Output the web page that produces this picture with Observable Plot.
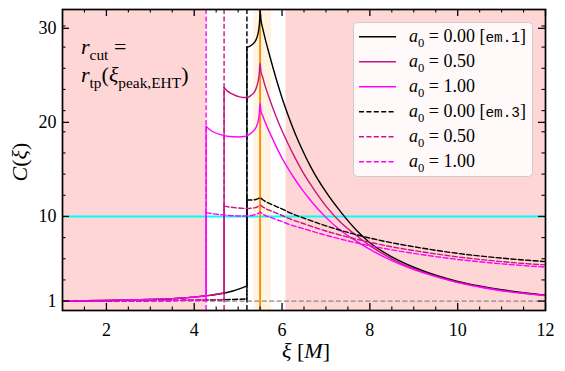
<!DOCTYPE html>
<html><head><meta charset="utf-8">
<script src="https://cdn.jsdelivr.net/npm/d3@7"></script>
<script src="https://cdn.jsdelivr.net/npm/@observablehq/plot@0.6"></script>
<style>
html,body{margin:0;padding:0;background:#fff;}
#chart{position:relative;width:565px;height:371px;}
#chart svg, #chart svg text, #chart svg tspan{font-family:"Liberation Serif","Times New Roman","DejaVu Serif",serif;}
#chart svg tspan.mono{font-family:"Liberation Mono","DejaVu Sans Mono",monospace;}
</style></head><body><div id="chart"></div>
<script>
// ---------- axes / ticks ----------
const xDomain = [1, 12];
const yDomain = [0, 32];
const xMajorTicks = [2, 4, 6, 8, 10, 12];
const xMinorTicks = [1.5, 2.5, 3, 3.5, 4.5, 5, 5.5, 6.5, 7, 7.5, 8.5, 9, 9.5, 10.5, 11, 11.5];
const yMajorTicks = [1, 10, 20, 30];
const yMinorTicks = [3.25, 5.5, 7.75, 12.25, 14.5, 16.75, 19, 21.25, 23.5, 25.75, 28, 30.25];

// ---------- shaded regions / reference lines ----------
const shadeStart = [1, 6.09];
const shadeEnd = [4.27, 12];
const peakBand = [5.36, 5.76];
const peakXi = [5.5];
const thresholdC = [10];
const unityC = [1];
const cutXi = [5.2, 4.68, 4.27];

// ---------- em.1 (solid) ----------
const xiBlackSolidLow = [1, 1.5, 2, 2.5, 3, 3.5, 4, 4.3, 4.6, 4.9, 5.2];
const cBlackSolidLow  = [1.02, 1.04, 1.07, 1.11, 1.17, 1.26, 1.42, 1.58, 1.78, 2.1, 2.62];
const xiBlackSolidHigh = [5.2, 5.25, 5.3, 5.35, 5.4, 5.44, 5.47, 5.49, 5.5, 5.52, 5.56, 5.6, 5.7, 5.8, 5.9, 6.0, 6.15, 6.3, 6.45, 6.65, 7.0, 7.35, 7.7, 8.0, 8.5, 9.0, 9.5, 10, 10.5, 11, 11.5, 12];
const cBlackSolidHigh  = [28.0, 28.05, 28.2, 28.4, 28.7, 29.2, 29.9, 30.8, 31.9, 30.9, 30.0, 29.2, 27.4, 25.7, 24.1, 22.6, 20.6, 18.8, 17.2, 15.3, 12.6, 10.4, 8.5, 7.2, 5.7, 4.6, 3.75, 3.1, 2.6, 2.2, 1.88, 1.62];

const xiVioletSolidLow = [1, 1.5, 2, 2.5, 3, 3.5, 4, 4.3, 4.68];
const cVioletSolidLow  = [1.02, 1.04, 1.07, 1.11, 1.17, 1.26, 1.42, 1.58, 1.86];
const xiVioletSolidHigh = [4.68, 4.75, 4.85, 5.0, 5.1, 5.2, 5.3, 5.38, 5.43, 5.46, 5.48, 5.5, 5.52, 5.56, 5.6, 5.7, 5.8, 5.9, 6.0, 6.15, 6.3, 6.45, 6.65, 7.0, 7.35, 7.7, 8.0, 8.5, 9.0, 9.5, 10, 10.5, 11, 11.5, 12];
const cVioletSolidHigh  = [23.7, 23.35, 23.05, 22.75, 22.65, 22.65, 22.9, 23.3, 23.9, 24.5, 25.2, 26.3, 25.4, 24.8, 24.1, 22.7, 21.4, 20.2, 19.1, 17.6, 16.2, 14.9, 13.4, 11.1, 9.3, 7.95, 6.9, 5.5, 4.45, 3.65, 3.0, 2.52, 2.13, 1.84, 1.6];

const xiMagentaSolidLow = [1, 1.5, 2, 2.5, 3, 3.5, 4, 4.27];
const cMagentaSolidLow  = [1.02, 1.04, 1.07, 1.11, 1.17, 1.26, 1.42, 1.57];
const xiMagentaSolidHigh = [4.27, 4.35, 4.45, 4.6, 4.8, 5.0, 5.15, 5.25, 5.35, 5.42, 5.46, 5.48, 5.5, 5.52, 5.56, 5.6, 5.7, 5.8, 5.9, 6.0, 6.15, 6.3, 6.45, 6.65, 7.0, 7.35, 7.7, 8.0, 8.5, 9.0, 9.5, 10, 10.5, 11, 11.5, 12];
const cMagentaSolidHigh  = [19.6, 19.25, 18.95, 18.7, 18.5, 18.45, 18.5, 18.7, 19.1, 19.6, 20.2, 20.8, 22.0, 21.2, 20.7, 20.2, 19.1, 18.1, 17.1, 16.2, 15.0, 13.9, 12.9, 11.7, 9.9, 8.45, 7.35, 6.5, 5.3, 4.35, 3.6, 2.97, 2.5, 2.1, 1.82, 1.58];

// ---------- em.3 (dashed) ----------
const xiBlackDashLow = [1, 2, 3, 4, 4.6, 5.0, 5.2];
const cBlackDashLow  = [1.0, 1.02, 1.05, 1.1, 1.15, 1.19, 1.23];
const xiBlackDashHigh = [5.2, 5.3, 5.4, 5.46, 5.5, 5.54, 5.6, 5.8, 6.0, 6.2, 6.45, 7.0, 7.5, 8.0, 8.5, 9.0, 9.5, 10, 10.5, 11, 11.5, 12];
const cBlackDashHigh  = [11.75, 11.75, 11.8, 11.9, 12.0, 11.85, 11.65, 11.2, 10.8, 10.35, 9.9, 9.0, 8.3, 7.7, 7.2, 6.78, 6.4, 6.07, 5.8, 5.57, 5.37, 5.2];

const xiVioletDashLow = [1, 2, 3, 4, 4.4, 4.68];
const cVioletDashLow  = [1.0, 1.02, 1.05, 1.1, 1.13, 1.16];
const xiVioletDashHigh = [4.68, 4.8, 5.0, 5.2, 5.35, 5.45, 5.5, 5.55, 5.6, 5.8, 6.0, 6.2, 6.45, 7.0, 7.5, 8.0, 8.5, 9.0, 9.5, 10, 10.5, 11, 11.5, 12];
const cVioletDashHigh  = [11.1, 11.0, 10.9, 10.85, 10.9, 11.05, 11.2, 11.05, 10.9, 10.5, 10.1, 9.7, 9.3, 8.45, 7.8, 7.25, 6.77, 6.37, 6.02, 5.7, 5.43, 5.2, 5.0, 4.85];

const xiMagentaDashLow = [1, 2, 3, 4, 4.27];
const cMagentaDashLow  = [1.0, 1.02, 1.05, 1.09, 1.11];
const xiMagentaDashHigh = [4.27, 4.4, 4.6, 4.8, 5.0, 5.2, 5.35, 5.45, 5.5, 5.55, 5.6, 5.8, 6.0, 6.2, 6.45, 7.0, 7.5, 8.0, 8.5, 9.0, 9.5, 10, 10.5, 11, 11.5, 12];
const cMagentaDashHigh  = [10.4, 10.3, 10.2, 10.1, 10.05, 10.05, 10.15, 10.3, 10.45, 10.3, 10.15, 9.8, 9.45, 9.1, 8.75, 8.0, 7.4, 6.88, 6.45, 6.07, 5.73, 5.43, 5.18, 4.96, 4.78, 4.62];

// ---------- legend ----------
const legendA0 = ["0.00", "0.50", "1.00", "0.00", "0.50", "1.00"];
const legendTag = ["em.1", "", "", "em.3", "", ""];

// ---------- styling ----------
const BLACK = "#000000", VIOLET = "#c71585", MAGENTA = "#ff00ff";
const DASH = "5,2.4";
const LW = 1.4;
const SERIF = "'Liberation Serif','Times New Roman','DejaVu Serif',serif";
const W = 565, H = 371, mL = 62, mR = 20, mT = 9, mB = 61;
const innerW = W - mL - mR, innerH = H - mT - mB;

const series = [
  {low: [xiBlackSolidLow, cBlackSolidLow], high: [xiBlackSolidHigh, cBlackSolidHigh], color: BLACK, dash: null},
  {low: [xiVioletSolidLow, cVioletSolidLow], high: [xiVioletSolidHigh, cVioletSolidHigh], color: VIOLET, dash: null},
  {low: [xiMagentaSolidLow, cMagentaSolidLow], high: [xiMagentaSolidHigh, cMagentaSolidHigh], color: MAGENTA, dash: null},
  {low: [xiBlackDashLow, cBlackDashLow], high: [xiBlackDashHigh, cBlackDashHigh], color: BLACK, dash: DASH},
  {low: [xiVioletDashLow, cVioletDashLow], high: [xiVioletDashHigh, cVioletDashHigh], color: VIOLET, dash: DASH},
  {low: [xiMagentaDashLow, cMagentaDashLow], high: [xiMagentaDashHigh, cMagentaDashHigh], color: MAGENTA, dash: DASH}
];
const cutColors = [BLACK, VIOLET, MAGENTA];

const pts = (xs, cs) => xs.map((x, i) => ({x, c: cs[i]}));

const curveMarks = [];
for (const s of series) {
  const o = {x: "x", y: "c", stroke: s.color, strokeWidth: LW, strokeDasharray: s.dash};
  const [lx, lc] = s.low, [hx, hc] = s.high;
  curveMarks.push(Plot.line(pts(lx, lc), {...o, curve: "monotone-x"}));
  curveMarks.push(Plot.line(pts([lx[lx.length - 1], hx[0]], [lc[lc.length - 1], hc[0]]), o));
  curveMarks.push(Plot.line(pts(hx, hc), {...o, curve: "monotone-x"}));
}

const shade = shadeStart.map((s, i) => ({x1: s, x2: shadeEnd[i]}));

const svg = Plot.plot({
  width: W, height: H,
  marginLeft: mL, marginRight: mR, marginTop: mT, marginBottom: mB,
  x: {domain: xDomain},
  y: {domain: yDomain},
  style: "font-family:" + SERIF + ";font-size:17px;background:white;color:black;",
  marks: [
    Plot.rect(shade, {x1: "x1", x2: "x2", fill: "#ffd6d6"}),
    Plot.rect([{x1: peakBand[0], x2: peakBand[1]}], {x1: "x1", x2: "x2", fill: "#fff3e2"}),
    Plot.ruleY(unityC, {stroke: "#888888", strokeWidth: LW, strokeDasharray: DASH}),
    Plot.ruleY(thresholdC, {stroke: "#00ffff", strokeWidth: 1.9}),
    Plot.ruleX(peakXi, {stroke: "#ff8c00", strokeWidth: 1.9}),
    Plot.ruleX(cutXi, {stroke: (d, i) => cutColors[i], strokeWidth: LW, strokeDasharray: DASH}),
    ...curveMarks,
    // inward ticks on all four sides
    Plot.ruleX(xMajorTicks, {insetTop: innerH - 7, strokeWidth: 1.3}),
    Plot.ruleX(xMajorTicks, {insetBottom: innerH - 7, strokeWidth: 1.3}),
    Plot.ruleX(xMinorTicks, {insetTop: innerH - 3.5, strokeWidth: 1.1}),
    Plot.ruleX(xMinorTicks, {insetBottom: innerH - 3.5, strokeWidth: 1.1}),
    Plot.ruleY(yMajorTicks, {insetRight: innerW - 7, strokeWidth: 1.3}),
    Plot.ruleY(yMajorTicks, {insetLeft: innerW - 7, strokeWidth: 1.3}),
    Plot.ruleY(yMinorTicks, {insetRight: innerW - 3.5, strokeWidth: 1.1}),
    Plot.ruleY(yMinorTicks, {insetLeft: innerW - 3.5, strokeWidth: 1.1}),
    Plot.axisX(xMajorTicks, {tickSize: 0, tickPadding: 13, label: null, tickFormat: d => String(d), fontSize: 18}),
    Plot.axisY(yMajorTicks, {tickSize: 0, tickPadding: 6, label: null, tickFormat: d => String(d), fontSize: 18}),
    Plot.frame({stroke: "black", strokeWidth: 1.7})
  ]
});
document.getElementById("chart").appendChild(svg);
d3.select(svg).attr("font-family", SERIF).selectAll("text").attr("font-family", SERIF);

// ---------- rich text helper ----------
const root = d3.select(svg);
function rich(parent, x, y, parts, size, anchor) {
  const t = parent.append("text").attr("x", x).attr("y", y)
    .attr("font-size", size).attr("fill", "black").attr("font-family", SERIF)
    .attr("text-anchor", anchor || "start").style("white-space", "pre");
  let shift = 0;
  for (const p of parts) {
    const s = t.append("tspan").text(p.t);
    const want = p.sub ? size * 0.27 : 0;
    if (want !== shift) { s.attr("dy", want - shift); shift = want; }
    if (p.i) s.attr("font-style", "italic");
    if (p.sub) s.attr("font-size", size * 0.7);
    if (p.mono) s.attr("class", "mono").attr("font-size", size * 0.8);
  }
  return t;
}

// axis labels
rich(root.append("g").attr("transform", "translate(27,162) rotate(-90)"), 0, 0,
  [{t: "C", i: true}, {t: "("}, {t: "ξ", i: true}, {t: ")"}], 22, "middle");
rich(root, 306, 358, [{t: "ξ", i: true}, {t: " ["}, {t: "M", i: true}, {t: "]"}], 22, "middle");

// annotation
rich(root, 81, 54, [{t: "r", i: true}, {t: "cut", sub: true}, {t: " ="}], 22);
rich(root, 81, 82, [{t: "r", i: true}, {t: "tp", sub: true}, {t: "("}, {t: "ξ", i: true}, {t: "peak,EHT", sub: true}, {t: ")"}], 22);

// legend
const lg = root.append("g");
lg.append("rect").attr("x", 353.5).attr("y", 22.5).attr("width", 179).attr("height", 154)
  .attr("rx", 4).attr("fill", "white").attr("fill-opacity", 0.85)
  .attr("stroke", "#cccccc").attr("stroke-width", 1);
legendA0.forEach((a, i) => {
  const cy = 36.8 + 25 * i;
  const s = series[i];
  lg.append("line").attr("x1", 359).attr("x2", 396).attr("y1", cy).attr("y2", cy)
    .attr("stroke", s.color).attr("stroke-width", LW)
    .attr("stroke-dasharray", s.dash);
  const parts = [{t: "a", i: true}, {t: "0", sub: true}, {t: " = " + a}];
  if (legendTag[i]) parts.push({t: " ["}, {t: legendTag[i], mono: true}, {t: "]"});
  rich(lg, 409, cy + 5.5, parts, 18);
});
</script>
</body></html>
